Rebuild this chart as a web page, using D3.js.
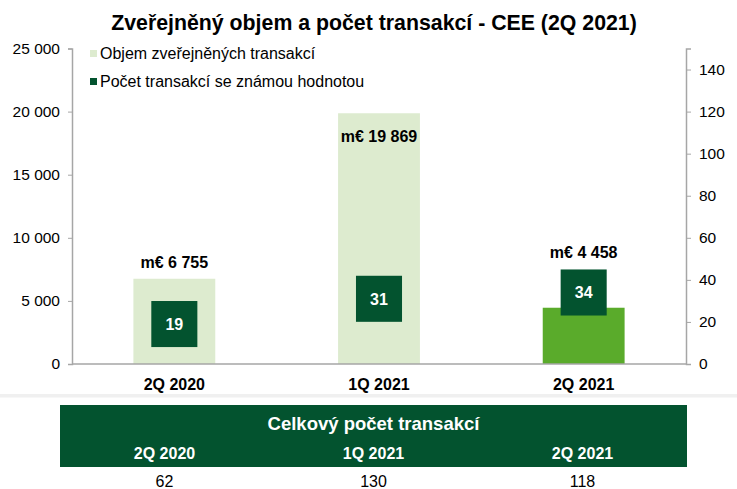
<!DOCTYPE html>
<html lang="cs">
<head>
<meta charset="UTF-8">
<title>Zveřejněný objem a počet transakcí - CEE (2Q 2021)</title>
<script src="https://d3js.org/d3.v7.min.js"></script>
<style>
  body { margin: 0; background: #fff; }
  svg text { font-family: "Liberation Sans", Arial, sans-serif; }
</style>
</head>
<body>
<div id="chart"></div>
<script>
// data
var categories = ['2Q 2020', '1Q 2021', '2Q 2021'];
var volume = [6755, 19869, 4458];          // m€
var dealsKnown = [19, 31, 34];             // transactions with known value
var dealsTotal = [62, 130, 118];
var volTicks = [0, 5000, 10000, 15000, 20000, 25000];
var cntTicks = [0, 20, 40, 60, 80, 100, 120, 140];

var W = 737, H = 489;
// plot area (note: "top" is a reserved window prop, so prefixed names)
var pLeft = 72, pRight = 686, pTop = 48.5, pBottom = 364;

var svg = d3.select('#chart').append('svg')
  .attr('width', W).attr('height', H);

var x = d3.scaleBand().domain(categories).range([pLeft, pRight])
  .paddingInner(0.6).paddingOuter(0.3);
var yL = d3.scaleLinear().domain([0, 25000]).range([pBottom, pTop]);
var yR = d3.scaleLinear().domain([0, 150]).range([pBottom, pTop]);

var fmt = function (v) { return d3.format(',')(v).replace(/,/g, ' '); };
var axisCol = '#a6a6a6';

// title
svg.append('text').attr('x', 374).attr('y', 29.5)
  .attr('text-anchor', 'middle').attr('font-weight', 'bold')
  .attr('font-size', 21.3).attr('fill', '#000')
  .text('Zveřejněný objem a počet transakcí - CEE (2Q 2021)');

// axes
var gL = svg.append('g').attr('transform', 'translate(' + pLeft + ',0)')
  .call(d3.axisLeft(yL).tickValues(volTicks).tickSize(4).tickPadding(8).tickFormat(fmt));
var gR = svg.append('g').attr('transform', 'translate(' + pRight + ',0)')
  .call(d3.axisRight(yR).tickValues(cntTicks).tickSize(5).tickPadding(8));
[gL, gR].forEach(function (g) {
  g.select('.domain').attr('stroke', axisCol).attr('stroke-width', 1.5);
  g.selectAll('.tick line').attr('stroke', axisCol);
  g.selectAll('.tick text').attr('font-size', 15.5).attr('fill', '#000')
    .attr('font-family', '"Liberation Sans", Arial, sans-serif');
});

// volume bars
var last = categories.length - 1;
svg.selectAll('rect.vol').data(volume).enter().append('rect')
  .attr('class', 'vol')
  .attr('x', function (d, i) { return x(categories[i]); })
  .attr('width', x.bandwidth())
  .attr('y', function (d) { return yL(d); })
  .attr('height', function (d) { return pBottom - yL(d); })
  .attr('fill', function (d, i) { return i === last ? '#5aab2b' : '#ddebcf'; });

// baseline
svg.append('line').attr('x1', pLeft).attr('x2', pRight)
  .attr('y1', pBottom).attr('y2', pBottom)
  .attr('stroke', axisCol).attr('stroke-width', 1.5);

// count markers (square boxes)
var box = x.step() * 0.225;
var g = svg.selectAll('g.cnt').data(dealsKnown).enter().append('g').attr('class', 'cnt');
g.append('rect')
  .attr('x', function (d, i) { return x(categories[i]) + x.bandwidth() / 2 - box / 2; })
  .attr('y', function (d) { return yR(d) - box / 2; })
  .attr('width', box).attr('height', box)
  .attr('fill', '#03532f');
g.append('text')
  .attr('x', function (d, i) { return x(categories[i]) + x.bandwidth() / 2; })
  .attr('y', function (d) { return yR(d) + 6; })
  .attr('text-anchor', 'middle').attr('font-weight', 'bold')
  .attr('font-size', 16).attr('fill', '#fff')
  .text(function (d) { return d; });

// volume labels
svg.selectAll('text.vlab').data(volume).enter().append('text')
  .attr('class', 'vlab')
  .attr('x', function (d, i) { return x(categories[i]) + x.bandwidth() / 2; })
  .attr('y', function (d, i) {
    var t = Math.min(yL(d), yR(dealsKnown[i]) - box / 2);
    return (t < 120 ? t + 23 : t - 17) + 6;
  })
  .attr('text-anchor', 'middle').attr('font-weight', 'bold')
  .attr('font-size', 16).attr('fill', '#000')
  .text(function (d) { return 'm€ ' + fmt(d); });

// category labels
svg.selectAll('text.cat').data(categories).enter().append('text')
  .attr('class', 'cat')
  .attr('x', function (d) { return x(d) + x.bandwidth() / 2; })
  .attr('y', 390)
  .attr('text-anchor', 'middle').attr('font-weight', 'bold')
  .attr('font-size', 16).attr('fill', '#000')
  .text(function (d) { return d; });

// legend
var legend = [
  { label: 'Objem zveřejněných transakcí', color: '#ddebcf', y: 53.5 },
  { label: 'Počet transakcí se známou hodnotou', color: '#03532f', y: 81.5 }
];
legend.forEach(function (l) {
  svg.append('rect').attr('x', 90).attr('y', l.y - 3.5).attr('width', 7).attr('height', 7).attr('fill', l.color);
  svg.append('text').attr('x', 100).attr('y', l.y + 5.5)
    .attr('font-size', 16).attr('fill', '#000').text(l.label);
});

// separator strip
svg.append('rect').attr('x', 0).attr('y', 394).attr('width', W).attr('height', 3.5).attr('fill', '#f0f0f0');

// table of total deals
var tx = d3.scaleBand().domain(categories).range([60, 687]);
svg.append('rect').attr('x', 60).attr('y', 405).attr('width', 627).attr('height', 62).attr('fill', '#03532f');
svg.append('text').attr('x', 373.5).attr('y', 430)
  .attr('text-anchor', 'middle').attr('font-weight', 'bold')
  .attr('font-size', 18.5).attr('fill', '#fff').text('Celkový počet transakcí');
svg.selectAll('text.th').data(categories).enter().append('text')
  .attr('class', 'th')
  .attr('x', function (d) { return tx(d) + tx.bandwidth() / 2; })
  .attr('y', 458.5)
  .attr('text-anchor', 'middle').attr('font-weight', 'bold')
  .attr('font-size', 16).attr('fill', '#fff')
  .text(function (d) { return d; });
svg.selectAll('text.td').data(dealsTotal).enter().append('text')
  .attr('class', 'td')
  .attr('x', function (d, i) { return tx(categories[i]) + tx.bandwidth() / 2; })
  .attr('y', 486.5)
  .attr('text-anchor', 'middle')
  .attr('font-size', 16).attr('fill', '#000')
  .text(function (d) { return d; });
</script>
</body>
</html>
